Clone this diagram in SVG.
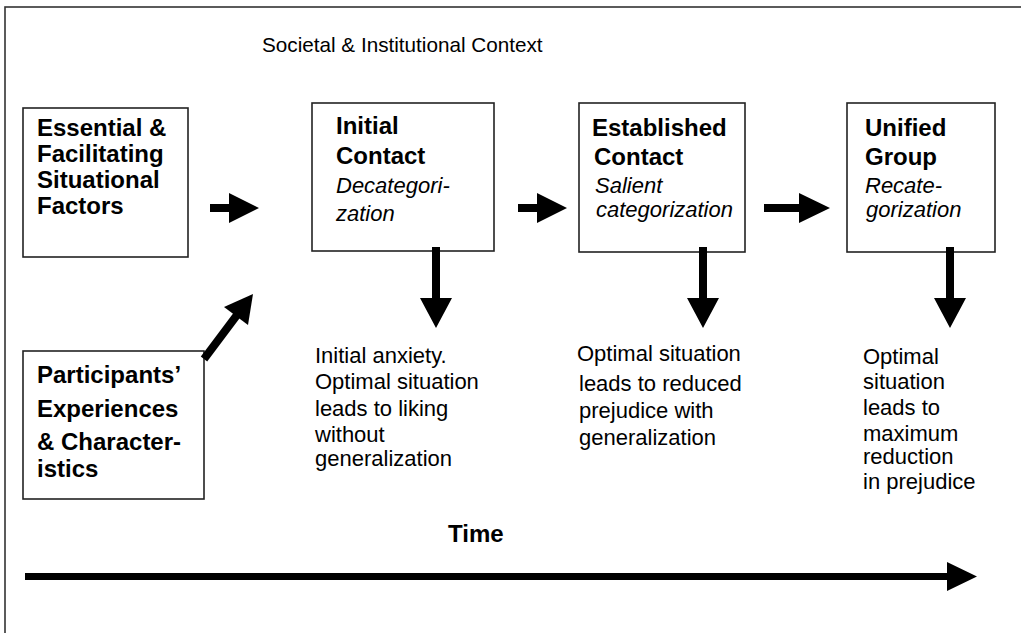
<svg xmlns="http://www.w3.org/2000/svg" width="1021" height="633" viewBox="0 0 1021 633">
<style>
.box{fill:#fff;stroke:#222;stroke-width:1.6}
.b{font-family:"Liberation Sans",Arial,sans-serif;font-weight:bold;font-size:24px;fill:#000}
.i{font-family:"Liberation Sans",Arial,sans-serif;font-style:italic;font-size:22px;fill:#000}
.r{font-family:"Liberation Sans",Arial,sans-serif;font-size:22px;fill:#000}
.ctx{font-family:"Liberation Sans",Arial,sans-serif;font-size:20.7px;fill:#000}
.arr{fill:#000;stroke:none}
</style>
<rect x="5" y="7" width="1030" height="640" fill="#fff" stroke="#333" stroke-width="1.6"/>
<text class="ctx" x="262" y="52">Societal &amp; Institutional Context</text>

<g id="essential">
<rect class="box" x="23" y="108" width="165" height="149"/>
<text class="b" x="37" y="136">Essential &amp;</text>
<text class="b" x="37" y="162">Facilitating</text>
<text class="b" x="37" y="188">Situational</text>
<text class="b" x="37" y="214">Factors</text>
</g>

<g id="participants">
<rect class="box" x="23" y="351" width="181" height="148"/>
<text class="b" x="37" y="383">Participants’</text>
<text class="b" x="37" y="417">Experiences</text>
<text class="b" x="37" y="450">&amp; Character-</text>
<text class="b" x="37" y="477">istics</text>
</g>

<g id="initial">
<rect class="box" x="312" y="103" width="182" height="148"/>
<text class="b" x="336" y="134">Initial</text>
<text class="b" x="336" y="164">Contact</text>
<text class="i" x="336" y="193">Decategori-</text>
<text class="i" x="336" y="221">zation</text>
</g>

<g id="established">
<rect class="box" x="579" y="103" width="166" height="149"/>
<text class="b" x="592" y="136">Established</text>
<text class="b" x="594" y="165">Contact</text>
<text class="i" x="595" y="193">Salient</text>
<text class="i" x="596" y="217">categorization</text>
</g>

<g id="unified">
<rect class="box" x="847" y="103" width="148" height="149"/>
<text class="b" x="865" y="136">Unified</text>
<text class="b" x="865" y="165">Group</text>
<text class="i" x="865" y="193">Recate-</text>
<text class="i" x="866" y="217">gorization</text>
</g>

<g id="outcome1">
<text class="r" x="315" y="363">Initial anxiety.</text>
<text class="r" x="315" y="389">Optimal situation</text>
<text class="r" x="315" y="416">leads to liking</text>
<text class="r" x="315" y="442">without</text>
<text class="r" x="315" y="466">generalization</text>
</g>

<g id="outcome2">
<text class="r" x="577" y="361">Optimal situation</text>
<text class="r" x="579" y="391">leads to reduced</text>
<text class="r" x="579" y="418">prejudice with</text>
<text class="r" x="579" y="445">generalization</text>
</g>

<g id="outcome3">
<text class="r" x="863" y="364">Optimal</text>
<text class="r" x="863" y="389">situation</text>
<text class="r" x="863" y="415">leads to</text>
<text class="r" x="863" y="441">maximum</text>
<text class="r" x="863" y="464">reduction</text>
<text class="r" x="863" y="489">in prejudice</text>
</g>

<g id="time">
<text class="b" x="448" y="542">Time</text>
</g>

<g id="connectors">
<polygon class="arr" points="210,204 229,204 229,193 259,208 229,223 229,212 210,212"/>
<polygon class="arr" points="518,204 537,204 537,193 567,208 537,223 537,212 518,212"/>
<polygon class="arr" points="764,204 799,204 799,193 830,208 799,223 799,212 764,212"/>
<polygon class="arr" points="432,247 440,247 440,298 452,298 436,328 420,298 432,298"/>
<polygon class="arr" points="699,247 707,247 707,298 719,298 703,328 687,298 699,298"/>
<polygon class="arr" points="946,247 954,247 954,298 966,298 950,328 934,298 946,298"/>
<line x1="204" y1="359" x2="240" y2="311" stroke="#000" stroke-width="8"/>
<polygon class="arr" points="253,294 248,325 224,307"/>
<polygon class="arr" points="25,573 947,573 947,562 977,576.5 947,591 947,580 25,580"/>
</g>
</svg>
